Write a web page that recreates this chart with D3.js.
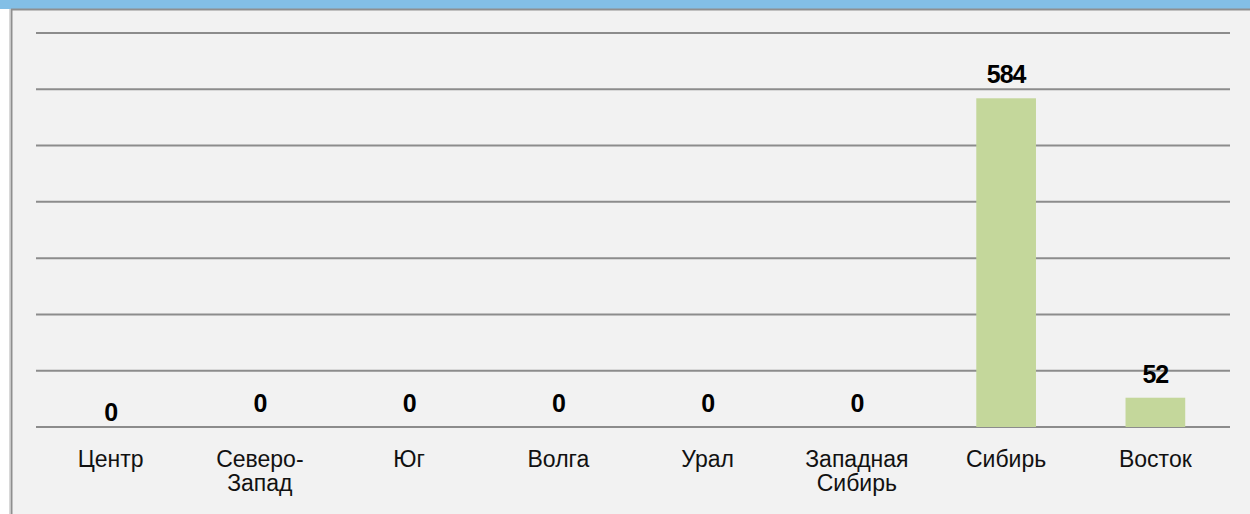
<!DOCTYPE html>
<html>
<head>
<meta charset="utf-8">
<script src="https://cdn.jsdelivr.net/npm/d3@7"></script>
<style>
  html, body { margin: 0; padding: 0; background: #ffffff; }
  svg { display: block; }
</style>
</head>
<body>
<div id="myVis"></div>
<script>
var w = 1250;
var h = 514;

// data
var regions = ["Центр", "Северо-\nЗапад", "Юг", "Волга", "Урал", "Западная\nСибирь", "Сибирь", "Восток"];
var counts = [0, 0, 0, 0, 0, 0, 584, 52];
var yTicks = [0, 100, 200, 300, 400, 500, 600, 700];

var svg = d3.select("#myVis").append("svg")
  .attr("width", w)
  .attr("height", h);

// frame: blue strip on top, grey panel, left border
svg.append("rect").attr("x", 0).attr("y", 0).attr("width", w).attr("height", 9).attr("fill", "#83bfe6");
svg.append("rect").attr("x", 11).attr("y", 9).attr("width", w - 11).attr("height", h - 9).attr("fill", "#f2f2f2");
svg.append("line").attr("x1", 11).attr("x2", w).attr("y1", 9.5).attr("y2", 9.5)
  .attr("stroke", "#8f8f8f").attr("stroke-width", 2);
svg.append("line").attr("x1", 11.5).attr("x2", 11.5).attr("y1", 9).attr("y2", h)
  .attr("stroke", "#8f8f8f").attr("stroke-width", 2);
svg.append("line").attr("x1", 9.5).attr("x2", 9.5).attr("y1", 9).attr("y2", h)
  .attr("stroke", "#d8d8d8").attr("stroke-width", 1);

var plotL = 36, plotR = 1230, plotT = 33, plotB = 427;

var x = d3.scaleBand()
  .domain(regions)
  .range([plotL, plotR])
  .padding(0);

var y = d3.scaleLinear()
  .domain([0, 700])
  .range([plotB, plotT]);

// gridlines
svg.append("g").selectAll("line")
  .data(yTicks)
  .enter()
  .append("line")
  .attr("x1", plotL)
  .attr("x2", plotR)
  .attr("y1", function(d) { return y(d); })
  .attr("y2", function(d) { return y(d); })
  .attr("stroke", "#8c8c8c")
  .attr("stroke-width", 2);

// bars
var barW = x.bandwidth() * 0.4;
svg.append("g").selectAll("rect")
  .data(counts)
  .enter()
  .append("rect")
  .attr("x", function(d, i) { return x(regions[i]) + (x.bandwidth() - barW) / 2; })
  .attr("y", function(d) { return y(d); })
  .attr("width", barW)
  .attr("height", function(d) { return plotB - y(d); })
  .attr("fill", "#c4d79b");

// value labels
svg.append("g").selectAll("text")
  .data(counts)
  .enter()
  .append("text")
  .attr("x", function(d, i) { return x(regions[i]) + x.bandwidth() / 2; })
  .attr("y", function(d, i) { return y(d) - (i === 0 ? 6 : 15); })
  .attr("text-anchor", "middle")
  .attr("font-family", "Liberation Sans, Arial, sans-serif")
  .attr("font-size", "25px")
  .attr("font-weight", "bold")
  .attr("letter-spacing", "-1px")
  .attr("fill", "#000")
  .text(function(d) { return d; });

// category labels
var cat = svg.append("g").selectAll("text")
  .data(regions)
  .enter()
  .append("text")
  .attr("x", function(d) { return x(d) + x.bandwidth() / 2; })
  .attr("y", 467)
  .attr("text-anchor", "middle")
  .attr("font-family", "Liberation Sans, Arial, sans-serif")
  .attr("font-size", "23px")
  .attr("fill", "#111");

cat.each(function(d) {
  var t = d3.select(this);
  d.split("\n").forEach(function(line, k) {
    t.append("tspan")
      .attr("x", t.attr("x"))
      .attr("dy", k === 0 ? 0 : 24)
      .text(line);
  });
});
</script>
</body>
</html>
